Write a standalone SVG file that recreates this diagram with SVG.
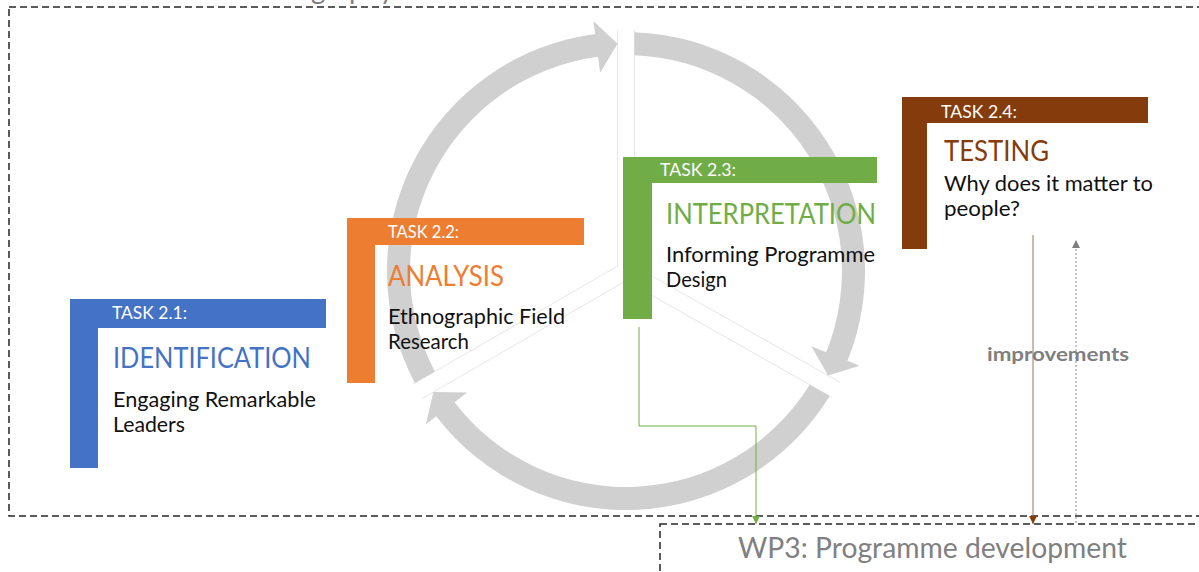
<svg xmlns="http://www.w3.org/2000/svg" width="1199" height="572" viewBox="0 0 1199 572">
  <style>
    .frame { fill: none; stroke: #262626; stroke-width: 1.5; stroke-dasharray: 7 4; }
    .wedge { fill: none; stroke: #e6e6e6; stroke-width: 1; }
    .ring { fill: #d0d0d0; }
    .t { font-family: Lato, "Open Sans", "Liberation Sans", sans-serif; }
    .task { font-size: 17.5px; fill: #ffffff; }
    .title { font-size: 28px; }
    .body { font-size: 21.5px; fill: #111111; }
    .wp { font-size: 29px; fill: #808080; }
    .note { font-size: 19px; font-weight: bold; fill: #7f7f7f; }
    .blue { fill: #4472c4; }
    .orange { fill: #ed7d31; }
    .green { fill: #70ad47; }
    .brown { fill: #843c0c; }
  </style>
  <defs>
    <marker id="headGreen" markerUnits="userSpaceOnUse" markerWidth="9" markerHeight="9" refX="8" refY="4" orient="auto">
      <path d="M0,0 L8,4 L0,8 Z" fill="#70ad47"/>
    </marker>
    <marker id="headBrown" markerUnits="userSpaceOnUse" markerWidth="9" markerHeight="9" refX="8" refY="4" orient="auto">
      <path d="M0,0 L8,4 L0,8 Z" fill="#843c0c"/>
    </marker>
    <marker id="headGray" markerUnits="userSpaceOnUse" markerWidth="9" markerHeight="9" refX="8" refY="4" orient="auto">
      <path d="M0,0 L8,4 L0,8 Z" fill="#7f7f7f"/>
    </marker>
  </defs>

  <rect width="1199" height="572" fill="#ffffff"/>

  <!-- work package frames -->
  <g id="wp2">
    <text class="t wp" x="164" y="-1" textLength="230" lengthAdjust="spacingAndGlyphs">WP2: Ethnography</text>
    <rect class="frame" x="9" y="7" width="1250" height="509"/>
  </g>
  <g id="wp3">
    <rect class="frame" x="660" y="524" width="600" height="100"/>
    <text class="t wp" x="738" y="558" textLength="389" lengthAdjust="spacingAndGlyphs">WP3: Programme development</text>
  </g>

  <!-- faint edges of the exploded pie behind the cycle -->
  <g id="cycle-wedges">
    <path class="wedge" d="M626 35 L626 271 L831.4 387.2" transform="translate(8.46,-4.94)"/>
    <path class="wedge" d="M831.4 387.2 L626 271 L421.62 389" transform="translate(0.04,9.8)"/>
    <path class="wedge" d="M421.62 389 L626 271 L626 35" transform="translate(-8.49,-4.9)"/>
  </g>

  <!-- circular arrows -->
  <g id="cycle">
    <path class="ring" d="M634.5 32.15 A239 239 0 0 1 847.49 360.8 L859.54 365.68 L828.05 375.56 L811.35 346.14 L826.17 352.16 A216 216 0 0 0 634.5 55.17 Z"/>
    <path class="ring" d="M829.7 396.01 A239 239 0 0 1 436.23 416.29 L425.91 424.19 L433.36 392.03 L467.2 392.58 L454.5 402.31 A216 216 0 0 0 809.66 384.69 Z"/>
    <path class="ring" d="M414.9 383.06 A239 239 0 0 1 595.09 34.01 L593.41 21.12 L617.5 43.66 L600.13 72.68 L598.06 56.81 A216 216 0 0 0 434.83 371.55 Z"/>
  </g>

  <!-- connectors -->
  <g id="connectors" fill="none" stroke-width="1">
    <path d="M639 327 V426 H756 V524" stroke="#70ad47" marker-end="url(#headGreen)"/>
    <path d="M1033 235 V524" stroke="#a0705a" marker-end="url(#headBrown)"/>
    <path d="M1076 523 V240" stroke="#8c8c8c" stroke-dasharray="2 2" marker-end="url(#headGray)"/>
    <text class="t note" x="987" y="361" textLength="142" lengthAdjust="spacingAndGlyphs">improvements</text>
  </g>

  <!-- task 2.1 -->
  <g id="task-2-1">
    <path class="blue" d="M70 299 H326 V328 H98 V468 H70 Z"/>
    <text class="t task" x="112" y="319" textLength="75" lengthAdjust="spacingAndGlyphs">TASK 2.1:</text>
    <text class="t title blue" x="113" y="368" textLength="198" lengthAdjust="spacingAndGlyphs">IDENTIFICATION</text>
    <text class="t body" x="113" y="407" textLength="203" lengthAdjust="spacingAndGlyphs">Engaging Remarkable</text>
    <text class="t body" x="113" y="432" textLength="72" lengthAdjust="spacingAndGlyphs">Leaders</text>
  </g>

  <!-- task 2.2 -->
  <g id="task-2-2">
    <path class="orange" d="M347 218 H584 V245 H375 V383 H347 Z"/>
    <text class="t task" x="388" y="238" textLength="71" lengthAdjust="spacingAndGlyphs">TASK 2.2:</text>
    <text class="t title orange" x="388" y="286" textLength="116" lengthAdjust="spacingAndGlyphs">ANALYSIS</text>
    <text class="t body" x="388" y="324" textLength="177" lengthAdjust="spacingAndGlyphs">Ethnographic Field</text>
    <text class="t body" x="388" y="349" textLength="81" lengthAdjust="spacingAndGlyphs">Research</text>
  </g>

  <!-- task 2.3 -->
  <g id="task-2-3">
    <path class="green" d="M623 157 H877 V183 H652 V319 H623 Z"/>
    <text class="t task" x="660" y="176" textLength="76" lengthAdjust="spacingAndGlyphs">TASK 2.3:</text>
    <text class="t title green" x="666" y="224" textLength="210" lengthAdjust="spacingAndGlyphs">INTERPRETATION</text>
    <text class="t body" x="666" y="262" textLength="209" lengthAdjust="spacingAndGlyphs">Informing Programme</text>
    <text class="t body" x="666" y="287" textLength="61" lengthAdjust="spacingAndGlyphs">Design</text>
  </g>

  <!-- task 2.4 -->
  <g id="task-2-4">
    <path class="brown" d="M902 97 H1148 V123 H927 V249 H902 Z"/>
    <text class="t task" x="941" y="118" textLength="76" lengthAdjust="spacingAndGlyphs">TASK 2.4:</text>
    <text class="t title brown" x="944" y="161" textLength="105" lengthAdjust="spacingAndGlyphs">TESTING</text>
    <text class="t body" x="944" y="191" textLength="209" lengthAdjust="spacingAndGlyphs">Why does it matter to</text>
    <text class="t body" x="944" y="216" textLength="76" lengthAdjust="spacingAndGlyphs">people?</text>
  </g>
</svg>
